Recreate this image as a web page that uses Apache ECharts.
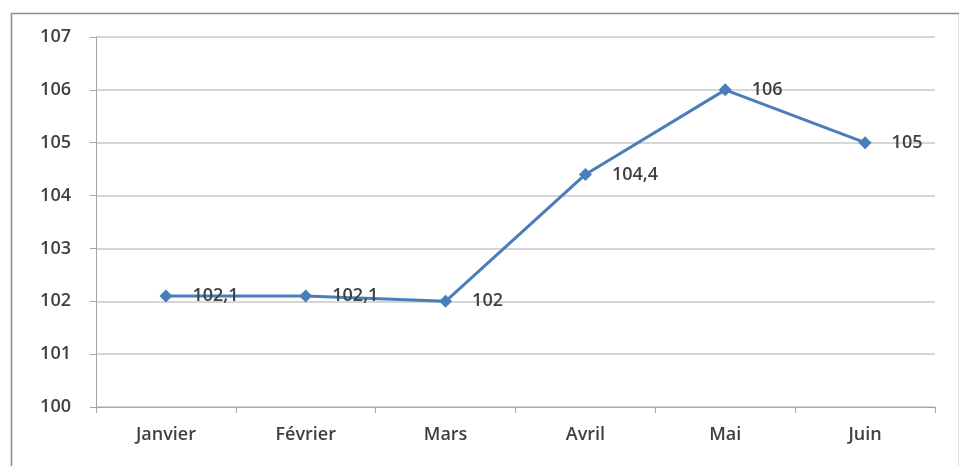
<!DOCTYPE html>
<html><head><meta charset="utf-8">
<script src="https://cdn.jsdelivr.net/npm/echarts@6/dist/echarts.min.js"></script>
<style>html,body{margin:0;padding:0;background:#fff}#c{width:959px;height:466px}</style>
</head><body><div id="c"></div>
<script>
const categories = ["Janvier", "Février", "Mars", "Avril", "Mai", "Juin"];
const values = [102.1, 102.1, 102, 104.4, 106, 105];
const yMin = 100, yMax = 107, yStep = 1;

const chart = echarts.init(document.getElementById('c'), null, {renderer: 'canvas'});
const font = '"Open Sans", sans-serif';
const textColor = '#404040';
chart.setOption({
  animation: false,
  backgroundColor: '#fff',
  graphic: [{
    type: 'rect', left: 9, top: 11,
    shape: {width: 948, height: 470},
    style: {fill: 'none', stroke: '#8c8c8c', lineWidth: 1.5},
    silent: true
  }],
  grid: {left: 96, top: 37, right: 24, bottom: 59, containLabel: false},
  xAxis: {
    type: 'category', data: categories, boundaryGap: true,
    axisLine: {lineStyle: {color: '#a6a6a6', width: 1}},
    axisTick: {show: true, length: 6, lineStyle: {color: '#a6a6a6'}},
    axisLabel: {color: textColor, fontFamily: font, fontSize: 18, fontWeight: 600, margin: 19},
    splitLine: {show: false}
  },
  yAxis: {
    type: 'value', min: yMin, max: yMax, interval: yStep,
    axisLine: {show: true, lineStyle: {color: '#a6a6a6', width: 1}},
    axisTick: {show: true, length: 6, lineStyle: {color: '#a6a6a6'}},
    axisLabel: {color: textColor, fontFamily: font, fontSize: 18, fontWeight: 600, margin: 25},
    splitLine: {lineStyle: {color: '#c8c8c8', width: 1.5}}
  },
  series: [{
    type: 'line', data: values,
    symbol: 'diamond', symbolSize: 13,
    lineStyle: {color: '#4a7ebb', width: 3},
    itemStyle: {color: '#4a7ebb'},
    label: {
      show: true, position: 'right', distance: 20,
      color: textColor, fontFamily: font, fontSize: 18, fontWeight: 600,
      formatter: p => String(p.value).replace('.', ',')
    }
  }]
});
</script></body></html>
